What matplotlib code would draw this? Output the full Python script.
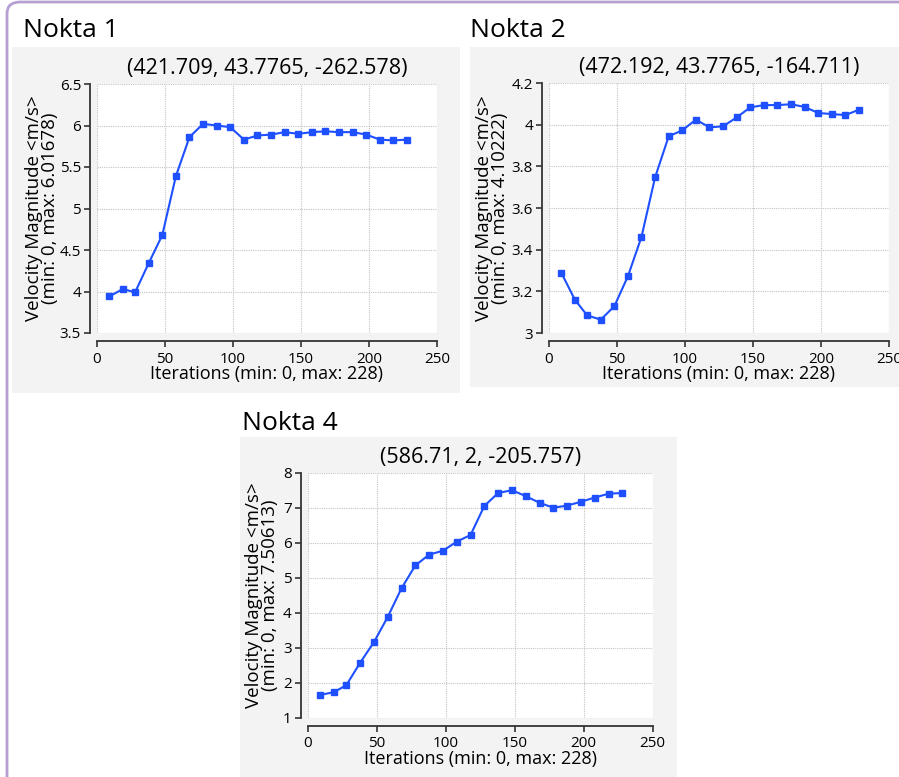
import matplotlib.pyplot as plt
from matplotlib.patches import FancyBboxPatch, Rectangle

plt.rcParams['font.family'] = ['Open Sans', 'DejaVu Sans']

iterations = [9, 19, 28, 38, 48, 58, 68, 78, 88, 98, 108, 118,
              128, 138, 148, 158, 168, 178, 188, 198, 208, 218, 228]

nokta1 = [3.94, 4.03, 3.99, 4.34, 4.68, 5.39, 5.86, 6.02, 6.00, 5.98, 5.83, 5.88,
          5.89, 5.92, 5.90, 5.92, 5.93, 5.92, 5.92, 5.89, 5.83, 5.82, 5.83]
nokta2 = [3.29, 3.16, 3.085, 3.064, 3.128, 3.272, 3.461, 3.747, 3.944, 3.973, 4.024, 3.987,
          3.992, 4.035, 4.083, 4.094, 4.094, 4.098, 4.085, 4.056, 4.051, 4.046, 4.072]
nokta4 = [1.65, 1.73, 1.93, 2.57, 3.16, 3.88, 4.70, 5.35, 5.66, 5.77, 6.03, 6.22,
          7.05, 7.42, 7.50, 7.33, 7.14, 7.00, 7.06, 7.17, 7.29, 7.40, 7.42]

headings = ['Nokta 1', 'Nokta 2', 'Nokta 4']
subtitles = ['(421.709, 43.7765, -262.578)', '(472.192, 43.7765, -164.711)', '(586.71, 2, -205.757)']
maxima = ['6.01678', '4.10222', '7.50613']
ylims = [(3.5, 6.5), (3.0, 4.2), (1, 8)]
yticks = [[3.5, 4, 4.5, 5, 5.5, 6, 6.5], [3, 3.2, 3.4, 3.6, 3.8, 4, 4.2], [1, 2, 3, 4, 5, 6, 7, 8]]
ytick_labels = [['3.5', '4', '4.5', '5', '5.5', '6', '6.5'],
                ['3', '3.2', '3.4', '3.6', '3.8', '4', '4.2'],
                ['1', '2', '3', '4', '5', '6', '7', '8']]
series = [nokta1, nokta2, nokta4]

W, H = 899, 777
fig = plt.figure(figsize=(W / 100, H / 100), dpi=100)

# purple frame
fig.patches.append(FancyBboxPatch((7 / W, -0.05), 1.2, 1.05 - 2 / H,
                                  boxstyle='round,pad=0,rounding_size=0.015',
                                  transform=fig.transFigure, fill=False,
                                  edgecolor='#b79fd2', linewidth=2, zorder=-2))

# gray panels behind each plot (pixel boxes: x0, y0, x1, y1)
panels = [(12, 47, 460, 393), (470, 47, 899, 387), (240, 437, 677, 777)]
for x0, y0, x1, y1 in panels:
    fig.patches.append(Rectangle((x0 / W, 1 - y1 / H), (x1 - x0) / W, (y1 - y0) / H,
                                 transform=fig.transFigure, facecolor='#f3f3f3',
                                 edgecolor='none', zorder=-1))

# axes boxes in pixels: left, top, right, bottom
boxes = [(97, 84, 437, 333), (549, 83, 889, 333), (307.7, 472.7, 652.7, 717.7)]
head_pos = [(23, 37), (470, 37), (242, 430)]
ylab_x = [-0.111, -0.117, -0.082]

for i in range(3):
    l, t, r, b = boxes[i]
    ax = fig.add_axes([l / W, 1 - b / H, (r - l) / W, (b - t) / H])
    ax.set_facecolor('white')
    ax.plot(iterations, series[i], color='#1f50ff', linewidth=1.5,
            marker='s', markersize=4.5, clip_on=False)
    ax.set_xlim(0, 250)
    ax.set_ylim(*ylims[i])
    ax.set_xticks([0, 50, 100, 150, 200, 250])
    ax.set_yticks(yticks[i])
    ax.set_yticklabels(ytick_labels[i])
    ax.grid(True, color='#c4c4c4', linestyle=(0, (1, 1)), linewidth=0.8)
    ax.set_axisbelow(True)
    for s in ['top', 'right']:
        ax.spines[s].set_visible(False)
    ax.spines['left'].set_position(('outward', 5))
    ax.spines['bottom'].set_position(('outward', 6))
    ax.spines['left'].set_bounds(*ylims[i])
    ax.spines['bottom'].set_bounds(0, 250)
    for s in ['left', 'bottom']:
        ax.spines[s].set_color('#333333')
        ax.spines[s].set_linewidth(1.3)
    ax.tick_params(direction='out', length=4.5, width=1.2, color='#333333',
                   labelsize=11, pad=2)
    ax.tick_params(axis='x', pad=3)
    ax.set_title(subtitles[i], fontsize=15.5, pad=7)
    ax.set_xlabel('Iterations (min: 0, max: 228)', fontsize=13, labelpad=-1)
    ax.set_ylabel('Velocity Magnitude <m/s>\n(min: 0, max: ' + maxima[i] + ')',
                  fontsize=13.5, linespacing=0.9)
    ax.yaxis.set_label_coords(ylab_x[i], 0.5)
    hx, hy = head_pos[i]
    fig.text(hx / W, 1 - hy / H, headings[i], fontsize=19, va='baseline', ha='left')

fig.savefig('out.png', dpi=100)
